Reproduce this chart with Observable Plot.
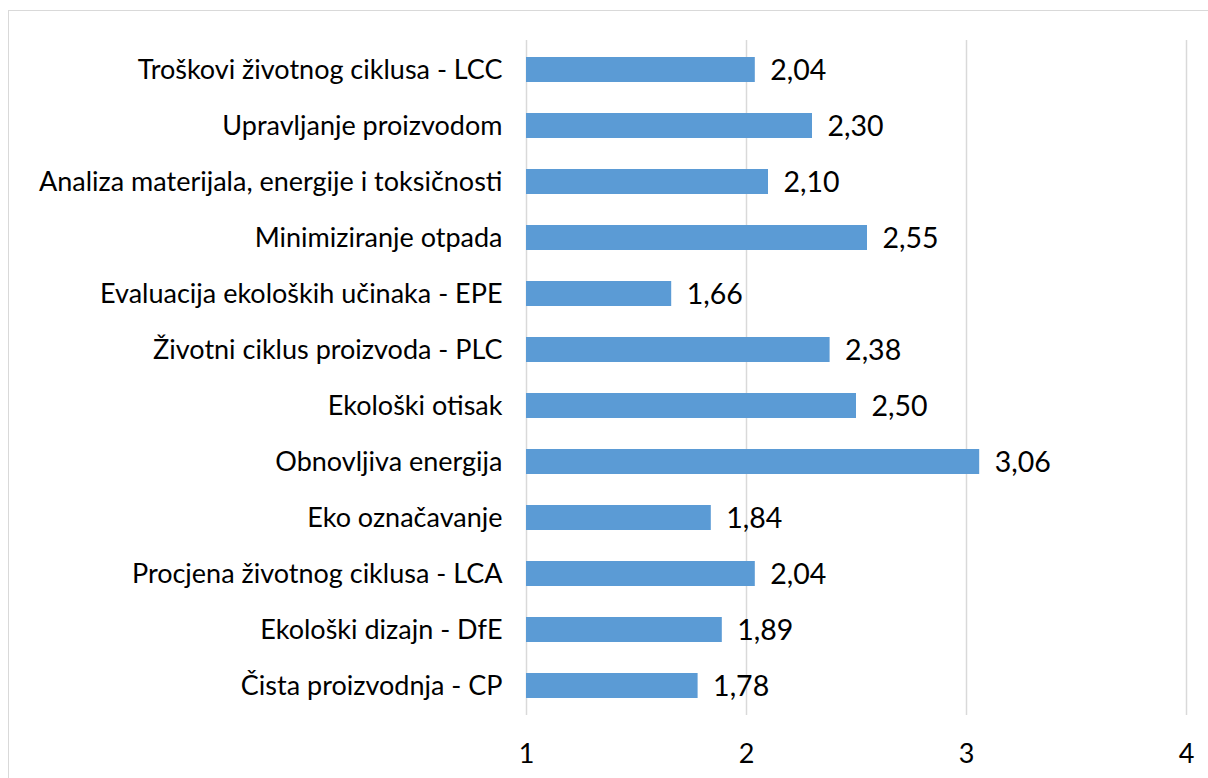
<!DOCTYPE html>
<html>
<head>
<meta charset="utf-8">
<script src="https://cdn.jsdelivr.net/npm/d3@7"></script>
<script src="https://cdn.jsdelivr.net/npm/@observablehq/plot@0.6"></script>
<style>
  html, body { margin: 0; padding: 0; background: #fff; overflow: hidden; }
  #frame { position: absolute; left: 8px; top: 10px; width: 1240px; height: 820px; border: 1.5px solid #d9d9d9; box-sizing: border-box; }
  #chart { position: absolute; left: 0; top: 0; }
</style>
</head>
<body>
<div id="frame"></div>
<div id="chart"></div>
<script>
const categories = [
  "Troškovi životnog ciklusa - LCC",
  "Upravljanje proizvodom",
  "Analiza materijala, energije i toksičnosti",
  "Minimiziranje otpada",
  "Evaluacija ekoloških učinaka - EPE",
  "Životni ciklus proizvoda - PLC",
  "Ekološki otisak",
  "Obnovljiva energija",
  "Eko označavanje",
  "Procjena životnog ciklusa - LCA",
  "Ekološki dizajn - DfE",
  "Čista proizvodnja - CP"
];
const values = [2.04, 2.30, 2.10, 2.55, 1.66, 2.38, 2.50, 3.06, 1.84, 2.04, 1.89, 1.78];
const xTicks = [1, 2, 3, 4];

const data = categories.map((c, i) => ({category: c, value: values[i]}));
const xMin = xTicks[0];
const fmt = v => v.toFixed(2).replace(".", ",");

const chart = Plot.plot({
  width: 1208,
  height: 778,
  marginLeft: 526,
  marginRight: 22,
  marginTop: 40,
  marginBottom: 63,
  style: {fontFamily: "Lato, sans-serif", background: "transparent", color: "#000"},
  x: {domain: [xTicks[0], xTicks[xTicks.length - 1]]},
  y: {domain: categories, paddingInner: 0.55, paddingOuter: 0.275},
  marks: [
    Plot.ruleX(xTicks, {stroke: "#d9d9d9", strokeWidth: 1.5}),
    Plot.barX(data, {x1: () => xMin, x2: "value", y: "category", fill: "#5B9BD5"}),
    Plot.text(data, {x: "value", y: "category", text: d => fmt(d.value), dx: 15, dy: 1, textAnchor: "start", fontSize: 28.5, fill: "#000"}),
    Plot.axisY({tickSize: 0, tickPadding: 24, fontSize: 27, fill: "#000", label: null}),
    Plot.axisX({ticks: xTicks, tickSize: 0, tickPadding: 28, fontSize: 27, fill: "#000", label: null, tickFormat: d => String(d)})
  ]
});
document.getElementById("chart").appendChild(chart);
</script>
</body>
</html>
